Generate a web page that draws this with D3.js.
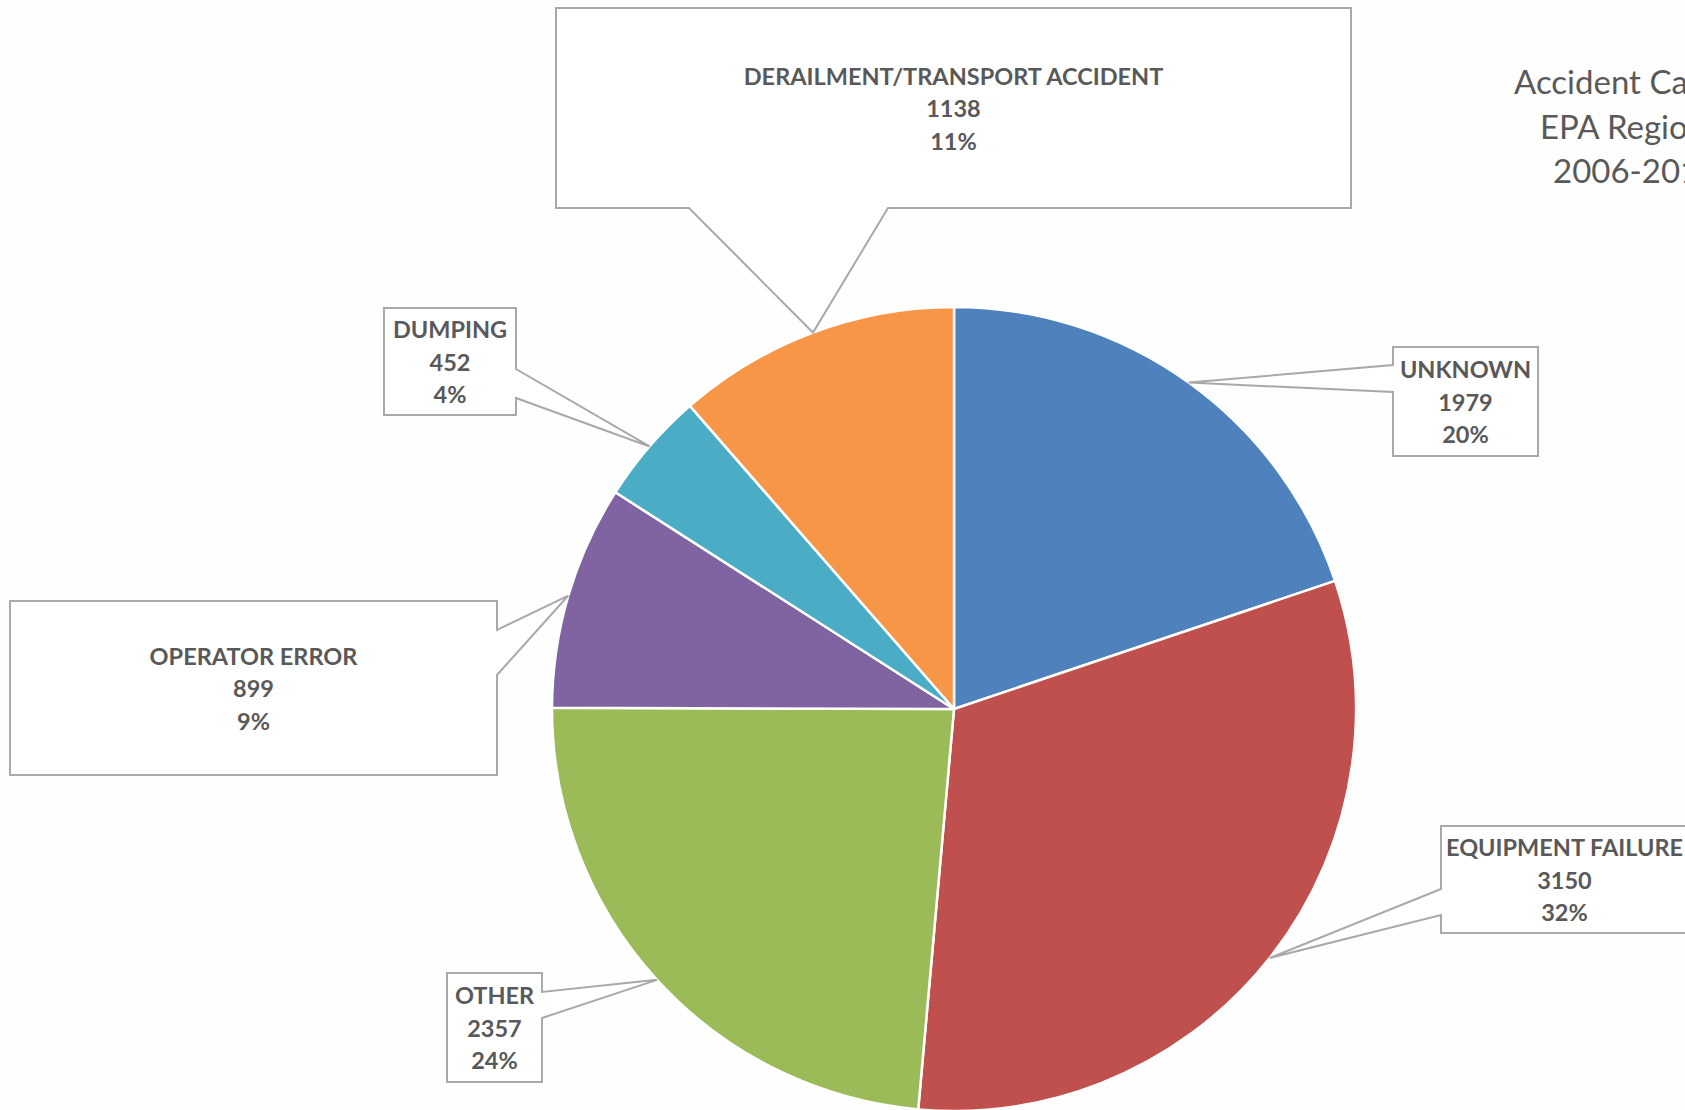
<!DOCTYPE html>
<html>
<head>
<meta charset="utf-8">
<script src="https://cdn.jsdelivr.net/npm/d3@7"></script>
<style>
  html, body { margin: 0; padding: 0; background: #fefefe; overflow: hidden; }
  svg { display: block; }
</style>
</head>
<body>
<svg id="chart" width="1685" height="1110"></svg>
<script>
// ---- data ----
const categories = ["UNKNOWN", "EQUIPMENT FAILURE", "OTHER", "OPERATOR ERROR", "DUMPING", "DERAILMENT/TRANSPORT ACCIDENT"];
const values = [1979, 3150, 2357, 899, 452, 1138];
const percentLabels = ["20%", "32%", "24%", "9%", "4%", "11%"];
const sliceColors = ["#4F81BD", "#C0504D", "#9BBB59", "#8064A2", "#4BACC6", "#F79646"];
const titleLines = ["Accident Causes", "EPA Region 5", "2006-2015"];

// ---- layout ----
const W = 1685, H = 1110;
const cx = 954, cy = 709, R = 402;
const calloutLayout = [
  { x: 1393, y: 347, w: 145, h: 109, side: "left",   a: 365, b: 392 },
  { x: 1441, y: 826, w: 247, h: 107, side: "left",   a: 889, b: 915 },
  { x: 447,  y: 973, w: 95,  h: 109, side: "right",  a: 992, b: 1018 },
  { x: 10,   y: 601, w: 487, h: 174, side: "right",  a: 630, b: 675 },
  { x: 384,  y: 308, w: 132, h: 107, side: "right",  a: 369, b: 398 },
  { x: 556,  y: 8,   w: 795, h: 200, side: "bottom", a: 689, b: 888 }
];

const svg = d3.select("#chart");
svg.append("rect").attr("width", W).attr("height", H).attr("fill", "#fefefe");

const data = categories.map((c, i) => ({ cat: c, value: values[i], pct: percentLabels[i], color: sliceColors[i], layout: calloutLayout[i] }));

const pie = d3.pie().sort(null).value(d => d.value);
const arcs = pie(data);
const arc = d3.arc().innerRadius(0).outerRadius(R);
const edgeArc = d3.arc().innerRadius(R).outerRadius(R);

const g = svg.append("g").attr("transform", `translate(${cx},${cy})`);
g.selectAll("path.slice")
  .data(arcs)
  .join("path")
  .attr("class", "slice")
  .attr("d", arc)
  .attr("fill", d => d.data.color)
  .attr("stroke", "#ffffff")
  .attr("stroke-width", 2.5)
  .attr("stroke-linejoin", "round");

// ---- callouts ----
function calloutPath(L, tip) {
  const x0 = L.x, y0 = L.y, x1 = L.x + L.w, y1 = L.y + L.h;
  let pts;
  if (L.side === "left") {
    pts = [[x0, y0], [x1, y0], [x1, y1], [x0, y1], [x0, L.b], tip, [x0, L.a]];
  } else if (L.side === "right") {
    pts = [[x0, y0], [x1, y0], [x1, L.a], tip, [x1, L.b], [x1, y1], [x0, y1]];
  } else {
    pts = [[x0, y0], [x1, y0], [x1, y1], [L.b, y1], tip, [L.a, y1], [x0, y1]];
  }
  return "M" + pts.map(p => p.join(",")).join("L") + "Z";
}

const callouts = svg.append("g");
arcs.forEach(d => {
  const L = d.data.layout;
  const c = edgeArc.centroid(d);
  const tip = [cx + c[0], cy + c[1]];
  callouts.append("path")
    .attr("d", calloutPath(L, tip))
    .attr("fill", "#ffffff")
    .attr("stroke", "#a9a9a9")
    .attr("stroke-width", 2)
    .attr("stroke-linejoin", "miter");
  const tx = L.x + L.w / 2;
  const mid = L.y + L.h / 2 + 9;
  const lines = [d.data.cat, d3.format("d")(d.data.value), d.data.pct];
  const t = callouts.append("text")
    .attr("text-anchor", "middle")
    .attr("font-family", "Lato, 'Open Sans', sans-serif")
    .attr("font-weight", "bold")
    .attr("font-size", 23.5)
    .attr("fill", "#595959");
  lines.forEach((ln, i) => {
    t.append("tspan").attr("x", tx).attr("y", mid + (i - 1) * 32.5).text(ln);
  });
});

// ---- title (cut off at the right edge, as in the reference) ----
const titleStarts = [1514, 1540, 1553];
const title = svg.append("text")
  .attr("font-family", "Lato, 'Open Sans', sans-serif")
  .attr("font-size", 33)
  .attr("fill", "#595959");
titleLines.forEach((ln, i) => {
  title.append("tspan").attr("x", titleStarts[i]).attr("y", 94 + i * 44.5).text(ln);
});
</script>
</body>
</html>
